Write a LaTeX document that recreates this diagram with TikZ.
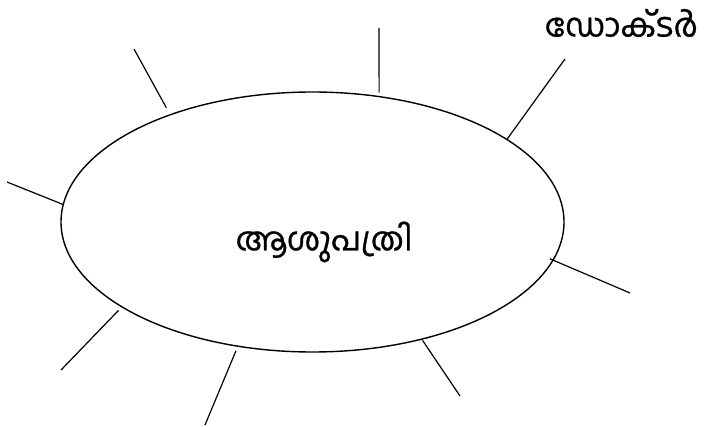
\documentclass[tikz,border=0pt]{standalone}
\usepackage{fontspec}
\newfontfamily\malfont[Script=Malayalam,FakeBold=0.8]{Hind Kochi}
\usetikzlibrary{shapes.geometric,positioning}

\begin{document}
\begin{tikzpicture}[x=1pt,y=-1pt,
            place/.style={draw,ellipse,line width=1.4pt,inner sep=0pt,outer sep=0pt,
                          minimum width=503pt,minimum height=260pt},
            every node/.style={align=center, font=\malfont\fontsize{32.5}{38}\selectfont},
            spoke/.style={line width=1.2pt,line cap=butt}
  ]
  \useasboundingbox (0,0) rectangle (704,427);

  \node[place] (hosp) at (312.5,222) {};
  \node (hosptext) at (324,242) {ആശുപത്രി};

  % free ends of the spokes
  \coordinate (wend)  at (7,182);
  \coordinate (nwend) at (134,49);
  \coordinate (nend)  at (379,28);
  \coordinate (neend) at (565,59);
  \coordinate (eend)  at (630,293);
  \coordinate (seend) at (460,396);
  \coordinate (send)  at (205,425);
  \coordinate (swend) at (61,370);

  \node (doctor) at (621.5,23) {ഡോക്ടർ};

  \draw[spoke] (hosp.176.5) -- (wend);
  \draw[spoke,shorten <=8pt] (hosp.143.2) -- (nwend);
  \draw[spoke,shorten <=4pt] (hosp.62.06) -- (nend);
  \draw[spoke] (hosp.23.5) -- (neend);
  \draw[spoke,shorten <=-3.5pt] (hosp.-9.31) -- (eend);
  \draw[spoke,shorten <=1.5pt] (hosp.-47.2) -- (seend);
  \draw[spoke,shorten <=5pt] (hosp.-121) -- (send);
  \draw[spoke,shorten <=5pt] (hosp.-156.1) -- (swend);

\end{tikzpicture}
\end{document}
